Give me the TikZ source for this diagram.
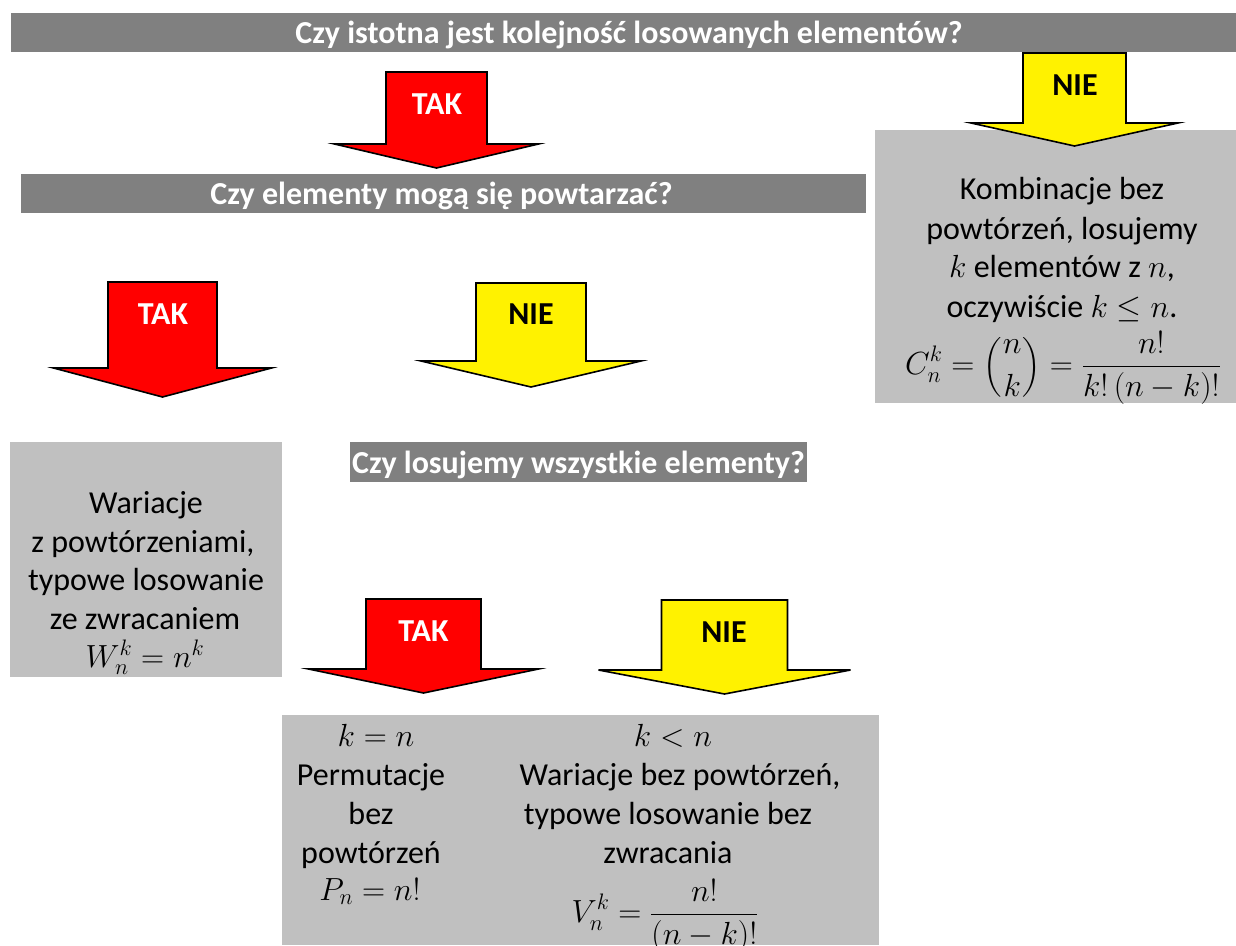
\RequirePackage{fix-cm}
\documentclass[tikz,border=0pt]{standalone}
\usepackage{amsmath}
\usepackage{fontspec}
\setmainfont{Carlito}
\definecolor{hdrgray}{RGB}{128,128,128}
\definecolor{boxgray}{RGB}{192,192,192}
\newcommand{\bigfont}{\fontsize{32}{39}\selectfont}
\newcommand{\blockarrow}[7]{%
  \draw[#7] ({#1-#3},#2) -- ({#1+#3},#2) -- ({#1+#3},#4) -- ({#1+#5},#4)
    -- (#1,#6) -- ({#1-#5},#4) -- ({#1-#3},#4) -- cycle;}
\tikzset{
  bar/.style={fill=hdrgray, draw=none, inner sep=0pt},
  graybox/.style={fill=boxgray, draw=none, inner sep=0pt},
  qtext/.style={text=white, font=\bigfont\bfseries, inner sep=0pt, anchor=base},
  body/.style={text=black, font=\bigfont, inner sep=0pt, anchor=base},
  formula/.style={text=black, font=\bigfont, inner sep=0pt, anchor=center},
  redarrow/.style={fill=red, draw=black, line width=1.6pt, line join=miter},
  yelarrow/.style={fill=yellow, draw=black, line width=1.6pt, line join=miter},
  taklab/.style={text=white, font=\bigfont\bfseries, inner sep=0pt, anchor=base},
  nielab/.style={text=black, font=\bigfont\bfseries, inner sep=0pt, anchor=base}
}
\begin{document}
\begin{tikzpicture}[x=1pt,y=-1pt]
\useasboundingbox (0,0) rectangle (1236,945);

% bars
\node[bar, minimum width=1225pt, minimum height=39pt] (bar1) at (623.5,32.5) {};
\node[bar, minimum width=845pt, minimum height=39pt] (bar2) at (443.5,193.5) {};
\node[bar, minimum width=457pt, minimum height=40pt] (bar3) at (578.5,462) {};

% gray boxes
\node[graybox, minimum width=361pt, minimum height=273pt] (combbox) at (1055.5,266.5) {};
\node[graybox, minimum width=272pt, minimum height=235pt] (wbox) at (146,559.5) {};
\node[graybox, minimum width=597pt, minimum height=230pt] (pbox) at (580.5,830) {};

% block arrows
\blockarrow{436.5}{72}{50.5}{144}{102}{168}{redarrow}
\blockarrow{1074.5}{53}{51.5}{123}{103.5}{146}{yelarrow}
\blockarrow{162.5}{282}{54.5}{368}{109}{397}{redarrow}
\blockarrow{531}{283}{55}{361}{110}{387}{yelarrow}
\blockarrow{423.5}{599}{57.5}{669}{115}{693}{redarrow}
\blockarrow{724.5}{600}{63}{670}{126}{694}{yelarrow}

% arrow labels
\node[taklab] (tak1) at (437,114) {TAK};
\node[nielab] (nie1) at (1075,95) {NIE};
\node[taklab] (tak2) at (163,324) {TAK};
\node[nielab] (nie2) at (531,324) {NIE};
\node[taklab] (tak3) at (423.5,641.5) {TAK};
\node[nielab] (nie3) at (724,642) {NIE};

% questions
\node[qtext] (q1) at (629,43) {Czy istotna jest kolejność losowanych elementów?};
\node[qtext] (q2) at (441.5,204) {Czy elementy mogą się powtarzać?};
\node[qtext] (q3) at (578.5,473) {Czy losujemy wszystkie elementy?};

% Kombinacje
\node[body] (c1) at (1062,199) {Kombinacje bez};
\node[body] (c2) at (1062,239) {powtórzeń, losujemy};
\node[body] (c3) at (1062,277) {$k$ elementów z $n$,};
\node[body] (c4) at (1062,317) {oczywiście $k\leq n$.};
\node[formula] (c5) at (1063,368) {$\displaystyle C_n^k=\left(\genfrac{}{}{0pt}{0}{n}{k}\right)=\frac{n!}{k!\,(n-k)!}$};

% Wariacje z powtorzeniami
\node[body] (w1) at (146,513) {Wariacje};
\node[body] (w2) at (143,552) {z powtórzeniami,};
\node[body] (w3) at (146,590) {typowe losowanie};
\node[body] (w4) at (145,629) {ze zwracaniem};
\node[body] (w5) at (145,667) {$W_n^k=n^k$};

% Permutacje
\node[body] (p1) at (376,746) {$k=n$};
\node[body] (p2) at (371,785) {Permutacje};
\node[body] (p3) at (371,824) {bez};
\node[body] (p4) at (371,863) {powtórzeń};
\node[body] (p5) at (370,900) {$P_n=n!$};

% Wariacje bez powtorzen
\node[body] (v1) at (673,746) {$k<n$};
\node[body] (v2) at (680,785) {Wariacje bez powtórzeń,};
\node[body] (v3) at (668,824) {typowe losowanie bez};
\node[body] (v4) at (668,863) {zwracania};
\node[formula] (v5) at (665,916) {$\displaystyle V_n^k=\frac{n!}{(n-k)!}$};
\end{tikzpicture}
\end{document}
